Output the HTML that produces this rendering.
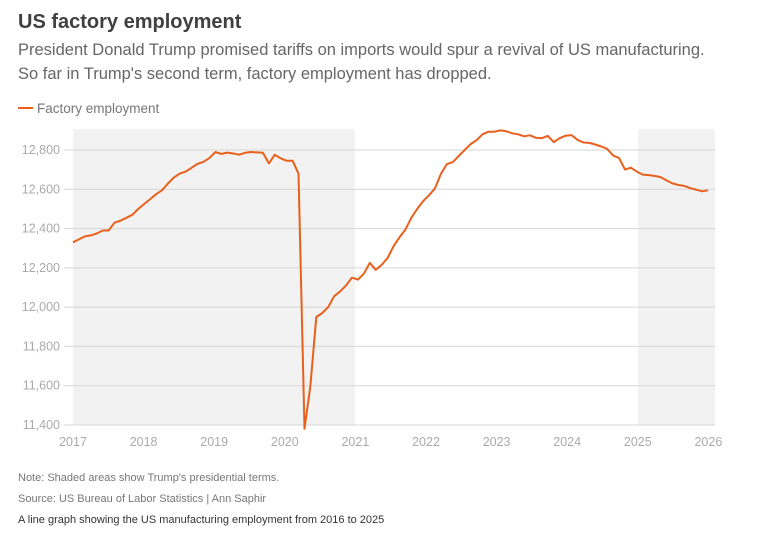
<!DOCTYPE html>
<html><head><meta charset="utf-8"><style>
body{margin:0;background:#fff;width:777px;height:546px;overflow:hidden;font-family:"Liberation Sans",sans-serif}
</style></head><body>
<svg width="777" height="546" xmlns="http://www.w3.org/2000/svg" font-family="Liberation Sans, sans-serif">
<text x="18" y="28" font-size="20" font-weight="bold" fill="#404040">US factory employment</text>
<text x="18" y="55" font-size="16.5" fill="#666">President Donald Trump promised tariffs on imports would spur a revival of US manufacturing.</text>
<text x="18" y="79" font-size="16.5" fill="#666">So far in Trump's second term, factory employment has dropped.</text>
<line x1="18" y1="108" x2="33" y2="108" stroke="#e8601c" stroke-width="2"/>
<text x="37" y="113" font-size="13.5" fill="#777">Factory employment</text>
<rect x="73" y="129" width="282" height="296" fill="#f2f2f2"/>
<rect x="638" y="129" width="77" height="296" fill="#f2f2f2"/>
<g id="grid" stroke="#d6d6d6" stroke-width="1"></g>
<g id="yl" font-size="12.5" fill="#aaa" text-anchor="end"></g>
<g id="xl" font-size="12.5" fill="#aaa" text-anchor="middle"></g>
<polyline id="ln" fill="none" stroke="#e8601c" stroke-width="2" stroke-linejoin="round"/>
<text x="18" y="481" font-size="11" fill="#777">Note: Shaded areas show Trump's presidential terms.</text>
<text x="18" y="502" font-size="11" fill="#777">Source: US Bureau of Labor Statistics | Ann Saphir</text>
<text x="18" y="523" font-size="11" fill="#333">A line graph showing the US manufacturing employment from 2016 to 2025</text>
</svg>
<script>
var ns="http://www.w3.org/2000/svg";
function Y(v){return 150+(12800-v)*275/1400;}
var g=document.getElementById('grid'),yl=document.getElementById('yl'),xl=document.getElementById('xl');
for(var v=11400;v<=12800;v+=200){var l=document.createElementNS(ns,'line');l.setAttribute('x1',64);l.setAttribute('x2',715);l.setAttribute('y1',Y(v));l.setAttribute('y2',Y(v));g.appendChild(l);
var t=document.createElementNS(ns,'text');t.setAttribute('x',60);t.setAttribute('y',Y(v)+4);t.textContent=v.toLocaleString('en-US');yl.appendChild(t);}
for(var yr=2017;yr<=2026;yr++){var t=document.createElementNS(ns,'text');t.setAttribute('x',73+(yr-2017)*70.6);t.setAttribute('y',446);t.textContent=yr;xl.appendChild(t);}
var d=[12330,12345,12360,12365,12375,12390,12390,12430,12440,12455,12470,12500,
12525,12550,12575,12595,12630,12660,12680,12690,12710,12730,12740,12760,
12790,12780,12787,12782,12776,12786,12790,12788,12786,12732,12776,12758,
12745,12745,12680,11380,11600,11950,11970,12000,12055,12080,12110,12150,
12140,12170,12225,12190,12215,12250,12310,12355,12395,12455,12500,12540,
12570,12605,12680,12728,12738,12770,12800,12830,12850,12880,12893,12893,
12900,12895,12885,12880,12870,12875,12862,12860,12872,12840,12860,12873,
12876,12852,12838,12836,12828,12818,12806,12772,12760,12700,12710,12690,
12675,12672,12668,12662,12645,12630,12622,12617,12606,12598,12590,12595];
var p=[];for(var i=0;i<d.length;i++){p.push((73+i*5.935).toFixed(1)+','+Y(d[i]).toFixed(1));}
document.getElementById('ln').setAttribute('points',p.join(' '));
</script>
</body></html>
